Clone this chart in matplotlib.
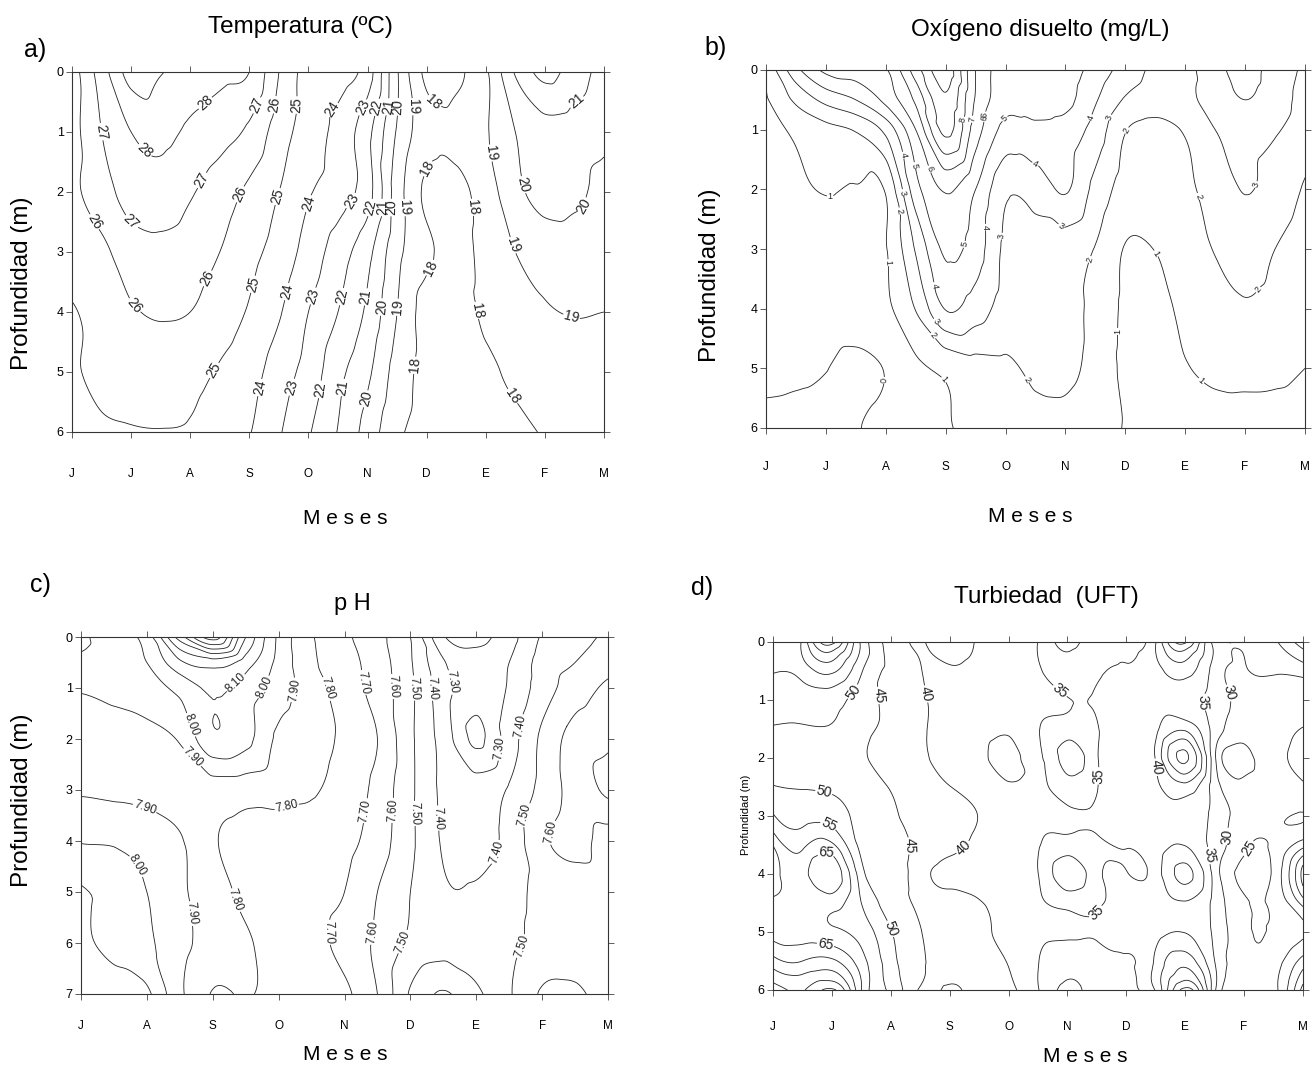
import numpy as np
import matplotlib.pyplot as plt
import matplotlib.tri as mtri

plt.rcParams['font.family'] = ['Liberation Sans', 'DejaVu Sans']

# ---------------- data ----------------
# columns: half-month steps from the first month; rows: depth (m)
months_jm = np.arange(0, 9.01, 0.5)      # J J A S O N D E F M
months_jm_ph = np.arange(0, 8.01, 0.5)   # J A S O N D E F M
meses_10 = ['J', 'J', 'A', 'S', 'O', 'N', 'D', 'E', 'F', 'M']
meses_9 = ['J', 'A', 'S', 'O', 'N', 'D', 'E', 'F', 'M']

temp_depths = [0, 1, 2, 3, 4, 5, 6]
temp_values = [
    [25.5, 27.5, 29.4, 29.05, 28.6, 28.3, 28.0, 26.0, 24.6, 24.5, 23.5, 20.1, 17.75, 17.8, 18.85, 21.1, 22.3, 21.5, 20.6],
    [25.6, 27.0, 28.0, 28.3, 27.8, 27.4, 26.8, 25.5, 24.5, 23.7, 22.3, 19.9, 18.4, 18.3, 18.9, 20.0, 20.6, 20.5, 20.3],
    [25.8, 26.5, 27.5, 27.6, 27.1, 26.5, 25.8, 25.0, 24.1, 23.5, 22.4, 19.5, 17.8, 17.7, 18.5, 19.7, 20.4, 20.2, 19.7],
    [25.6, 25.8, 26.5, 26.7, 26.5, 26.0, 25.3, 24.6, 23.6, 22.5, 21.3, 19.3, 18.2, 17.7, 18.3, 19.0, 19.4, 19.5, 19.5],
    [24.9, 25.4, 25.9, 26.1, 26.0, 25.5, 24.9, 24.1, 23.0, 22.0, 20.8, 19.0, 17.6, 17.5, 18.2, 18.5, 18.9, 19.05, 19.0],
    [24.9, 25.2, 25.4, 25.5, 25.3, 24.9, 24.4, 23.5, 22.6, 21.3, 20.2, 18.6, 17.7, 17.6, 17.8, 18.2, 18.4, 18.5, 18.5],
    [24.7, 24.9, 24.95, 24.97, 24.9, 24.5, 24.05, 23.1, 22.1, 20.95, 19.6, 18.2, 17.7, 17.6, 17.7, 17.8, 18.05, 18.1, 18.1],
]

oxy_depths = [0, 0.5, 1, 2, 3, 4, 5, 6]
oxy_values = [
    [1.2, 3.7, 5.25, 5.5, 5.9, 8.5, 10.6, 7.0, 5.5, 5.6, 5.5, 4.6, 3.6, 2.8, 2.7, 3.7, 4.3, 3.6, 2.8],
    [0.9, 2.2, 3.3, 4.0, 5.3, 7.2, 9.8, 6.9, 5.4, 5.4, 5.3, 4.1, 2.9, 2.5, 2.7, 3.5, 4.0, 3.5, 2.6],
    [0.6, 1.2, 1.7, 2.1, 3.3, 6.0, 9.3, 6.5, 4.7, 4.8, 4.6, 3.6, 2.05, 1.7, 2.1, 3.0, 3.3, 3.1, 2.5],
    [0.6, 0.85, 1.05, 0.95, 1.1, 4.6, 6.1, 5.0, 3.2, 3.4, 4.1, 2.7, 1.6, 1.5, 1.8, 2.4, 3.05, 2.6, 1.9],
    [0.4, 0.5, 0.6, 0.7, 0.95, 3.1, 5.2, 4.5, 2.8, 2.7, 2.5, 1.95, 0.95, 1.02, 1.5, 2.05, 2.4, 2.0, 1.5],
    [0.5, 0.5, 0.55, 0.6, 0.8, 2.05, 4.05, 3.5, 2.6, 2.5, 2.4, 1.7, 0.85, 0.75, 1.2, 1.6, 1.9, 1.7, 1.35],
    [0.25, 0.15, 0.02, -0.25, 0.05, 0.8, 1.2, 1.6, 1.8, 2.2, 2.2, 1.7, 0.8, 0.7, 0.95, 1.2, 1.25, 1.2, 1.0],
    [-0.3, -0.3, -0.25, -0.05, 0.3, 0.6, 0.9, 1.3, 1.5, 1.7, 1.7, 1.4, 0.95, 0.7, 0.6, 0.6, 0.6, 0.6, 0.6],
]

ph_depths = [0, 0.5, 1, 2, 3, 4, 5, 6, 7]
ph_values = [
    [8.02, 7.95, 8.05, 8.45, 8.75, 8.3, 7.98, 7.81, 7.72, 7.63, 7.5, 7.21, 7.17, 7.26, 7.41, 7.46, 7.52],
    [7.98, 7.96, 8.0, 8.18, 8.25, 8.15, 7.97, 7.82, 7.74, 7.65, 7.51, 7.31, 7.24, 7.3, 7.44, 7.5, 7.56],
    [7.91, 7.93, 7.96, 8.03, 8.12, 8.06, 7.95, 7.85, 7.75, 7.66, 7.52, 7.34, 7.24, 7.31, 7.45, 7.55, 7.62],
    [7.86, 7.86, 7.87, 7.91, 8.08, 8.03, 7.88, 7.84, 7.78, 7.7, 7.52, 7.36, 7.18, 7.35, 7.52, 7.64, 7.68],
    [7.89, 7.88, 7.87, 7.86, 7.85, 7.84, 7.83, 7.81, 7.76, 7.67, 7.52, 7.38, 7.35, 7.41, 7.53, 7.64, 7.72],
    [7.995, 7.99, 7.97, 7.91, 7.81, 7.77, 7.76, 7.75, 7.73, 7.65, 7.52, 7.39, 7.36, 7.43, 7.58, 7.63, 7.56],
    [8.11, 8.07, 8.0, 7.92, 7.84, 7.78, 7.75, 7.73, 7.7, 7.6, 7.5, 7.41, 7.41, 7.46, 7.53, 7.55, 7.55],
    [8.13, 8.06, 8.02, 7.93, 7.86, 7.81, 7.77, 7.73, 7.67, 7.58, 7.48, 7.44, 7.44, 7.47, 7.54, 7.56, 7.55],
    [8.2, 8.17, 8.12, 7.92, 7.795, 7.805, 7.78, 7.75, 7.72, 7.6, 7.39, 7.29, 7.38, 7.49, 7.61, 7.615, 7.56],
]

turb_depths = [0, 0.5, 1, 1.5, 2, 2.5, 3, 3.5, 4, 4.5, 5, 5.5, 6]
turb_values = [
    [58.5, 61, 77, 54, 43, 39.7, 41.5, 39.5, 37.5, 34.9, 28.5, 33, 34.7, 39.8, 56, 33, 31, 34, 43],
    [55.3, 57, 61, 50.5, 44.2, 40.2, 39.6, 38.8, 37.3, 35.6, 32, 34.2, 35.4, 38.2, 42, 33, 29.5, 30.5, 32],
    [52.5, 52.5, 52, 47.5, 44.2, 41, 38.5, 37.5, 36.5, 36, 35.2, 35.5, 36.5, 38, 37, 33, 28.5, 28, 27],
    [49.5, 49.3, 49.5, 46.5, 44, 41, 38.5, 37.3, 35.8, 35.2, 32.5, 34.6, 36.8, 39, 44, 33, 27, 28, 30.2],
    [46, 46, 46.5, 45.6, 43, 41, 38.5, 37, 33, 36, 28, 34.5, 37, 40.5, 56, 31, 23, 28, 31.5],
    [50.4, 49.6, 49, 47.5, 44.7, 42.3, 40.1, 38.5, 35.8, 35.8, 32.5, 34.8, 37, 39, 43, 32.5, 27, 27, 29],
    [55.5, 53, 53, 48, 45.5, 43.5, 41.5, 39.9, 37.5, 35.5, 35.6, 35.8, 37.5, 38.5, 38.5, 33.5, 28, 26, 24.8],
    [64.7, 59, 61, 48.5, 46.5, 43.5, 41, 38.8, 37.2, 35.3, 33, 34.2, 35.3, 37.8, 39.8, 33, 26, 25.5, 33],
    [68, 63, 69, 52, 47, 42, 39, 38, 37, 35.1, 27, 33.5, 35.3, 37.5, 46.5, 33, 23.5, 26, 47],
    [63.5, 62.5, 62, 55, 48, 43.5, 41.5, 40.3, 38, 35.6, 33.5, 34.5, 35.8, 38, 39.5, 33.5, 25.5, 26, 37],
    [63, 62.5, 61, 58, 50.3, 45.2, 42.5, 41, 38.5, 36, 35.8, 35.4, 36.5, 38.5, 39.8, 34, 26, 25.5, 29],
    [72, 70, 71, 62, 52, 45.5, 43.5, 41.5, 39.8, 35.2, 32, 33.5, 34.5, 41, 48, 35, 26.5, 27.5, 37],
    [83, 79.5, 86, 65, 54, 44.5, 45.8, 42, 40.8, 35.3, 28.5, 33.5, 34.6, 40.5, 62, 36, 27, 28.5, 47],
]

# contour-label anchor points (month, depth) as placed on the original
temp_label_pts = [(2.29, .55), (3.11, .55), (3.46, .55), (3.79, .55), (4.38, .58), (4.9, .58), (5.12, .58),
                  (5.33, .58), (5.5, .58), (5.72, .58), (6.07, .55), (8.54, .5), (.46, 1.0), (1.16, 1.38),
                  (7.09, 1.35), (6.0, 1.6), (2.26, 1.84), (7.55, 1.9), (2.96, 2.09), (3.53, 2.09), (4.02, 2.2),
                  (4.8, 2.2), (5.05, 2.26), (5.22, 2.26), (5.43, 2.26), (5.65, 2.26), (6.74, 2.26), (8.57, 2.2),
                  (.39, 2.49), (.95, 2.55), (7.45, 2.89), (6.1, 3.29), (2.33, 3.46), (3.11, 3.55), (3.63, 3.66),
                  (4.13, 3.75), (4.59, 3.75), (4.98, 3.75), (5.26, 3.92), (5.5, 3.92), (1.02, 3.92), (6.81, 3.98),
                  (8.47, 4.0), (5.82, 4.89), (2.5, 5.03), (3.18, 5.26), (3.74, 5.26), (4.2, 5.29), (4.59, 5.26),
                  (4.9, 5.43), (7.41, 5.43)]
oxy_label_pts = [(3.22, .82), (3.4, .82), (3.56, .8), (3.73, .8), (3.97, .8), (2.28, 1.43), (2.5, 1.6),
                 (2.7, 1.67), (2.31, 2.05), (2.18, 2.37), (1.07, 2.19), (2.04, 3.23), (3.3, 2.92), (2.77, 3.62),
                 (2.8, 4.24), (2.71, 4.52), (1.95, 5.2), (2.97, 5.19), (4.4, 5.16), (3.59, 2.64), (3.85, 2.78),
                 (5.42, .8), (5.74, .8), (6.04, 1.02), (4.53, 1.5), (4.81, 2.78), (8.18, 1.92), (7.14, 2.14),
                 (5.42, 3.18), (6.49, 3.09), (8.18, 3.65), (5.82, 4.38), (7.28, 5.19)]
ph_label_pts = [(2.35, .9), (2.81, 1.0), (3.24, 1.04), (3.71, 1.02), (4.32, .89), (4.73, .97), (5.07, 1.0),
                (5.37, 1.0), (5.62, .89), (1.59, 1.76), (1.59, 2.48), (6.36, 2.18), (6.69, 1.76), (.99, 3.26),
                (3.16, 3.49), (4.29, 3.4), (4.73, 3.4), (5.07, 3.46), (5.42, 3.55), (6.81, 3.52), (7.16, 3.84),
                (6.36, 4.24), (1.0, 4.37), (2.35, 5.16), (1.69, 5.42), (3.78, 5.79), (4.41, 5.79), (4.94, 6.0),
                (6.7, 6.07)]
turb_label_pts = [(1.36, .86), (1.89, .91), (2.63, .89), (4.86, .86), (7.34, 1.03), (7.8, .86), (.86, 2.6),
                  (.9, 3.24), (.9, 3.56), (2.28, 3.51), (3.2, 3.51), (5.57, 2.31), (6.45, 2.17), (7.41, 3.68),
                  (7.8, 3.36), (8.12, 3.59), (.9, 5.17), (2.03, 4.93), (5.46, 4.64)]


def refined_field(xs, ys, values, kind):
    xs = np.asarray(xs, float)
    ys = np.asarray(ys, float)
    z = np.asarray(values, float)
    X, Y = np.meshgrid(xs, ys)
    nx = len(xs)
    tris = []
    for j in range(len(ys) - 1):
        for i in range(nx - 1):
            a = j * nx + i
            tris.append([a, a + 1, a + nx + 1])
            tris.append([a, a + nx + 1, a + nx])
    tri = mtri.Triangulation(X.ravel(), Y.ravel(), np.array(tris))
    interp = mtri.CubicTriInterpolator(tri, z.ravel(), kind=kind)
    refiner = mtri.UniformTriRefiner(tri)
    return refiner.refine_field(z.ravel(), triinterpolator=interp, subdiv=4)


def px(x, y):
    return x / 1312, 1 - y / 1070


fig = plt.figure(figsize=(13.12, 10.70), dpi=100)


def make_panel(rect, xs, ys, values, levels, label_pts, fmt, lsize, xmax, ymax, xlabels, xpad,
               kind='geom'):
    ax = fig.add_axes(rect)
    ax.set_xlim(0, xmax)
    ax.set_ylim(ymax, 0)
    tri_ref, z_ref = refined_field(xs, ys, values, kind)
    cs = ax.tricontour(tri_ref, z_ref, levels=levels, colors='#222222', linewidths=0.6)
    ax.clabel(cs, manual=label_pts, fmt=fmt, fontsize=lsize, inline=True, inline_spacing=1)
    ax.set_xticks(np.arange(0, xmax + 0.01, 1))
    ax.set_xticklabels(xlabels, fontsize=8.5)
    ax.set_yticks(np.arange(0, ymax + 0.01, 1))
    ax.set_yticklabels([str(v) for v in range(ymax + 1)], fontsize=9)
    ax.tick_params(axis='both', direction='out', length=4, width=0.6, top=True, right=True,
                   labeltop=False, labelright=False, color='#444444')
    ax.tick_params(axis='x', pad=xpad)
    ax.tick_params(axis='y', pad=2)
    for s in ax.spines.values():
        s.set_linewidth(0.8)
        s.set_color('#333333')
    return ax


# a) temperature
make_panel([72 / 1312, 1 - 432 / 1070, 532 / 1312, 360 / 1070], months_jm, temp_depths, temp_values,
           np.arange(18, 30), temp_label_pts, '%1.0f', 10, 9, 6, meses_10, 22)
# b) dissolved oxygen
make_panel([766 / 1312, 1 - 428 / 1070, 539 / 1312, 358 / 1070], months_jm, oxy_depths, oxy_values,
           np.arange(0, 11), oxy_label_pts, '%1.0f', 6.5, 9, 6, meses_10, 20)
# c) pH
make_panel([81 / 1312, 1 - 994 / 1070, 527 / 1312, 357 / 1070], months_jm_ph, ph_depths, ph_values,
           np.round(np.arange(7.2, 8.75, 0.1), 2), ph_label_pts, '%.2f', 8.5, 8, 7, meses_9, 15)
# d) turbidity
make_panel([773 / 1312, 1 - 990 / 1070, 530 / 1312, 348 / 1070], months_jm, turb_depths, turb_values,
           np.arange(25, 90, 5), turb_label_pts, '%1.0f', 10, 9, 6, meses_10, 18, kind='min_E')

# titles, panel letters and axis names
fig.text(*px(300, 27), 'Temperatura (ºC)', ha='center', va='center', fontsize=17.5)
fig.text(*px(1040, 30), 'Oxígeno disuelto (mg/L)', ha='center', va='center', fontsize=17.5)
fig.text(*px(352, 604), 'p H', ha='center', va='center', fontsize=17)
fig.text(*px(1046, 597), 'Turbiedad  (UFT)', ha='center', va='center', fontsize=17.5)
for letter, (x, y) in zip(['a)', 'b)', 'c)', 'd)'], [(35, 50), (716, 48), (40, 585), (702, 588)]):
    fig.text(*px(x, y), letter, ha='center', va='center', fontsize=18)
for x, y in [(345, 518), (1030, 517), (345, 1055), (1085, 1057)]:
    fig.text(*px(x, y), 'M e s e s', ha='center', va='center', fontsize=15)
for x, y in [(22, 283), (710, 275), (22, 800)]:
    fig.text(*px(x, y), 'Profundidad (m)', ha='center', va='center', fontsize=17.5, rotation=90)
fig.text(*px(746, 815), 'Profundidad (m)', ha='center', va='center', fontsize=8, rotation=90)

fig.savefig('out.png', dpi=100)
